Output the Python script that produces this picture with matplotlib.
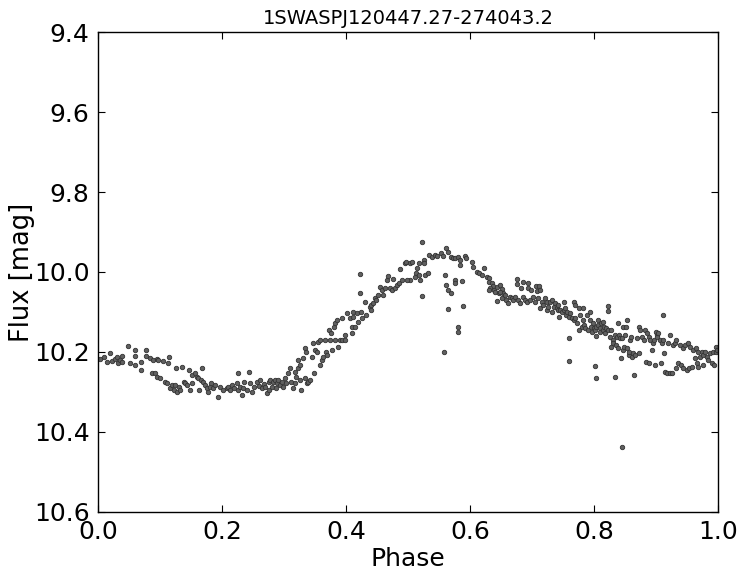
import numpy as np
import matplotlib
matplotlib.use("Agg")
import matplotlib.pyplot as plt


title = "1SWASPJ120447.27-274043.2"

# phase 0.00 - 0.25
phase_a = [0.003, 0.009, 0.014, 0.019, 0.022, 0.027, 0.030, 0.033, 0.035, 0.038,
           0.039, 0.049, 0.051, 0.059, 0.059, 0.060, 0.069, 0.070, 0.078, 0.078,
           0.084, 0.087, 0.089, 0.092, 0.095, 0.095, 0.097, 0.100, 0.105, 0.108,
           0.111, 0.113, 0.115, 0.116, 0.119, 0.122, 0.124, 0.125, 0.127, 0.130,
           0.132, 0.136, 0.138, 0.140, 0.143, 0.146, 0.148, 0.151, 0.152, 0.156,
           0.159, 0.162, 0.163, 0.166, 0.168, 0.170, 0.173, 0.175, 0.178, 0.181,
           0.183, 0.186, 0.189, 0.193, 0.197, 0.202, 0.208, 0.210, 0.213, 0.216,
           0.220, 0.224, 0.225, 0.226, 0.229, 0.232, 0.234, 0.236, 0.240, 0.244,
           0.245, 0.248, 0.251]
mag_a = [10.218, 10.212, 10.224, 10.203, 10.222, 10.218, 10.213, 10.228, 10.220, 10.210,
         10.224, 10.185, 10.228, 10.195, 10.210, 10.232, 10.224, 10.245, 10.195, 10.210,
         10.216, 10.253, 10.220, 10.253, 10.262, 10.218, 10.220, 10.266, 10.222, 10.274,
         10.278, 10.228, 10.212, 10.291, 10.283, 10.295, 10.283, 10.241, 10.299, 10.287,
         10.295, 10.237, 10.274, 10.278, 10.283, 10.245, 10.295, 10.278, 10.258, 10.253,
         10.262, 10.266, 10.295, 10.270, 10.241, 10.274, 10.283, 10.291, 10.299, 10.287,
         10.278, 10.291, 10.283, 10.312, 10.287, 10.295, 10.291, 10.287, 10.295, 10.283,
         10.291, 10.278, 10.252, 10.295, 10.287, 10.307, 10.291, 10.274, 10.295, 10.249,
         10.278, 10.299, 10.287]

# phase 0.25 - 0.49 (rise)
phase_b = [0.256, 0.260, 0.261, 0.264, 0.267, 0.269, 0.272, 0.275, 0.276, 0.277,
           0.280, 0.283, 0.285, 0.287, 0.288, 0.291, 0.294, 0.296, 0.299, 0.302,
           0.304, 0.307, 0.310, 0.312, 0.315, 0.317, 0.318, 0.320, 0.323, 0.323,
           0.326, 0.326, 0.328, 0.331, 0.334, 0.334, 0.335, 0.337, 0.339, 0.342,
           0.345, 0.347, 0.349, 0.350, 0.353, 0.355, 0.358, 0.358, 0.361, 0.363,
           0.366, 0.367, 0.369, 0.372, 0.374, 0.376, 0.377, 0.380, 0.382, 0.383,
           0.385, 0.387, 0.390, 0.393, 0.394, 0.398, 0.399, 0.401, 0.406, 0.409,
           0.410, 0.412, 0.412, 0.415, 0.417, 0.420, 0.423, 0.424, 0.425, 0.431,
           0.433, 0.439, 0.440, 0.441, 0.444, 0.447, 0.449, 0.451, 0.455, 0.458,
           0.460, 0.463, 0.466, 0.471, 0.474, 0.479, 0.482, 0.486, 0.422, 0.468,
           0.476]
mag_b = [10.274, 10.285, 10.270, 10.291, 10.280, 10.287, 10.303, 10.295, 10.274, 10.270,
         10.287, 10.274, 10.270, 10.291, 10.278, 10.270, 10.283, 10.274, 10.287, 10.266,
         10.278, 10.253, 10.241, 10.274, 10.291, 10.249, 10.278, 10.262, 10.220, 10.241,
         10.233, 10.270, 10.295, 10.216, 10.191, 10.266, 10.199, 10.278, 10.274, 10.270,
         10.212, 10.178, 10.253, 10.195, 10.199, 10.174, 10.170, 10.233, 10.220, 10.212,
         10.170, 10.199, 10.208, 10.145, 10.170, 10.153, 10.195, 10.137, 10.128, 10.170,
         10.120, 10.187, 10.170, 10.116, 10.170, 10.170, 10.158, 10.103, 10.116, 10.137,
         10.153, 10.099, 10.112, 10.137, 10.103, 10.124, 10.053, 10.099, 10.116, 10.074,
         10.108, 10.087, 10.095, 10.083, 10.078, 10.066, 10.070, 10.058, 10.037, 10.045,
         10.058, 10.041, 10.020, 10.041, 10.045, 10.041, 10.032, 10.027, 10.006, 10.010,
         10.018]

# phase 0.49 - 0.745 (maximum)
phase_c = [0.522, 0.487, 0.495, 0.497, 0.503, 0.506, 0.503, 0.498, 0.490, 0.514,
           0.513, 0.511, 0.517, 0.518, 0.519, 0.525, 0.526, 0.527, 0.533, 0.534,
           0.538, 0.544, 0.546, 0.554, 0.557, 0.562, 0.565, 0.570, 0.573, 0.576,
           0.581, 0.584, 0.584, 0.592, 0.594, 0.603, 0.605, 0.611, 0.614, 0.619,
           0.622, 0.628, 0.630, 0.630, 0.560, 0.562, 0.565, 0.570, 0.576, 0.576,
           0.587, 0.522, 0.565, 0.589, 0.580, 0.580, 0.558, 0.635, 0.637, 0.632,
           0.630, 0.638, 0.640, 0.643, 0.646, 0.648, 0.651, 0.654, 0.643, 0.648,
           0.651, 0.657, 0.658, 0.662, 0.665, 0.667, 0.670, 0.673, 0.676, 0.676,
           0.678, 0.681, 0.683, 0.685, 0.686, 0.689, 0.692, 0.694, 0.694, 0.697,
           0.699, 0.702, 0.705, 0.707, 0.708, 0.710, 0.712, 0.713, 0.713, 0.716,
           0.718, 0.721, 0.724, 0.724, 0.726, 0.729, 0.732, 0.733, 0.735, 0.737,
           0.740, 0.742, 0.742, 0.744]
mag_c = [9.924, 9.993, 9.978, 9.974, 9.978, 9.974, 10.020, 10.020, 10.020, 9.991,
         10.003, 10.012, 9.978, 10.008, 10.020, 9.970, 9.978, 10.008, 10.003, 9.958,
         9.962, 9.958, 9.960, 9.953, 9.960, 9.941, 9.949, 9.962, 9.966, 9.966,
         9.963, 9.970, 9.983, 9.960, 9.966, 9.974, 9.988, 9.999, 10.002, 10.008,
         9.991, 10.012, 10.016, 10.024, 10.008, 10.033, 10.045, 10.053, 10.020, 10.027,
         10.022, 10.060, 10.092, 10.085, 10.137, 10.149, 10.199, 10.028, 10.035, 10.041,
         10.045, 10.045, 10.049, 10.037, 10.052, 10.033, 10.043, 10.053, 10.072, 10.049,
         10.066, 10.058, 10.070, 10.077, 10.062, 10.066, 10.070, 10.062, 10.018, 10.030,
         10.070, 10.078, 10.041, 10.062, 10.024, 10.070, 10.074, 10.027, 10.041, 10.070,
         10.045, 10.062, 10.074, 10.035, 10.047, 10.066, 10.035, 10.045, 10.091, 10.074,
         10.083, 10.066, 10.074, 10.095, 10.087, 10.074, 10.070, 10.099, 10.087, 10.078,
         10.091, 10.095, 10.083, 10.112]

# phase 0.745 - 1.00 (decline) + outliers
phase_d = [0.745, 0.748, 0.751, 0.752, 0.753, 0.755, 0.756, 0.759, 0.760, 0.761,
           0.764, 0.767, 0.767, 0.769, 0.769, 0.772, 0.775, 0.776, 0.777, 0.780,
           0.782, 0.783, 0.784, 0.786, 0.788, 0.791, 0.793, 0.794, 0.795, 0.796,
           0.799, 0.800, 0.802, 0.803, 0.804, 0.806, 0.807, 0.809, 0.810, 0.812,
           0.814, 0.815, 0.816, 0.818, 0.820, 0.823, 0.823, 0.823, 0.826, 0.827,
           0.828, 0.830, 0.831, 0.834, 0.836, 0.837, 0.839, 0.839, 0.841, 0.842,
           0.843, 0.845, 0.846, 0.847, 0.848, 0.850, 0.852, 0.853, 0.854, 0.856,
           0.857, 0.858, 0.859, 0.861, 0.863, 0.864, 0.866, 0.869, 0.872, 0.873,
           0.874, 0.877, 0.880, 0.882, 0.884, 0.885, 0.888, 0.889, 0.890, 0.893,
           0.895, 0.896, 0.899, 0.900, 0.901, 0.902, 0.904, 0.906, 0.908, 0.909,
           0.911, 0.912, 0.913, 0.915, 0.917, 0.920, 0.922, 0.923, 0.925, 0.928,
           0.931, 0.932, 0.933, 0.936, 0.938, 0.941, 0.943, 0.944, 0.947, 0.950,
           0.952, 0.954, 0.955, 0.958, 0.960, 0.963, 0.965, 0.966, 0.967, 0.968,
           0.971, 0.974, 0.975, 0.976, 0.979, 0.982, 0.984, 0.987, 0.990, 0.992,
           0.994, 0.996, 0.997, 0.998, 0.802, 0.803, 0.834, 0.760, 0.845]
mag_d = [10.095, 10.099, 10.095, 10.074, 10.091, 10.108, 10.099, 10.112, 10.166, 10.103,
         10.116, 10.120, 10.074, 10.083, 10.116, 10.128, 10.091, 10.145, 10.108, 10.137,
         10.091, 10.120, 10.133, 10.141, 10.108, 10.145, 10.099, 10.120, 10.137, 10.149,
         10.128, 10.141, 10.145, 10.160, 10.137, 10.120, 10.133, 10.141, 10.149, 10.128,
         10.145, 10.124, 10.137, 10.153, 10.141, 10.145, 10.085, 10.097, 10.162, 10.187,
         10.145, 10.170, 10.178, 10.157, 10.183, 10.162, 10.128, 10.191, 10.157, 10.166,
         10.216, 10.166, 10.137, 10.195, 10.187, 10.157, 10.137, 10.120, 10.191, 10.208,
         10.199, 10.170, 10.162, 10.212, 10.203, 10.258, 10.208, 10.166, 10.137, 10.203,
         10.145, 10.162, 10.170, 10.145, 10.224, 10.153, 10.228, 10.162, 10.170, 10.195,
         10.178, 10.170, 10.233, 10.149, 10.157, 10.162, 10.153, 10.170, 10.228, 10.178,
         10.108, 10.170, 10.203, 10.249, 10.253, 10.178, 10.157, 10.253, 10.253, 10.183,
         10.178, 10.170, 10.241, 10.228, 10.183, 10.233, 10.191, 10.241, 10.183, 10.245,
         10.178, 10.241, 10.187, 10.237, 10.195, 10.216, 10.191, 10.228, 10.199, 10.237,
         10.212, 10.199, 10.233, 10.208, 10.199, 10.212, 10.220, 10.203, 10.228, 10.199,
         10.233, 10.199, 10.187, 10.195, 10.235, 10.266, 10.262, 10.222, 10.4375]

phase = np.array(phase_a + phase_b + phase_c + phase_d)
mag = np.array(mag_a + mag_b + mag_c + mag_d)

fig = plt.figure(figsize=(7.45, 5.82), dpi=100)
ax = fig.add_axes([98 / 745, 70 / 582, 620 / 745, 480 / 582])

ax.plot(phase, mag, "o", ms=3.2, mfc="#606060", mec="#333333", mew=0.6)

ax.set_xlim(0.0, 1.0)
ax.set_ylim(10.6, 9.4)
ax.set_xticks(np.arange(0.0, 1.01, 0.2))
ax.set_yticks(np.arange(9.4, 10.61, 0.2))
ax.set_xticklabels(["%.1f" % v for v in np.arange(0.0, 1.01, 0.2)])
ax.set_yticklabels(["%.1f" % v for v in np.arange(9.4, 10.61, 0.2)])
ax.tick_params(direction="in", length=5, width=0.8, top=True, right=True,
               labelsize=18, pad=6)
for s in ax.spines.values():
    s.set_linewidth(1.0)

ax.set_xlabel("Phase", fontsize=18, labelpad=2)
ax.set_ylabel("Flux [mag]", fontsize=18.5, labelpad=-1)
ax.set_title(title, fontsize=14)

fig.savefig("out.png", dpi=100)
